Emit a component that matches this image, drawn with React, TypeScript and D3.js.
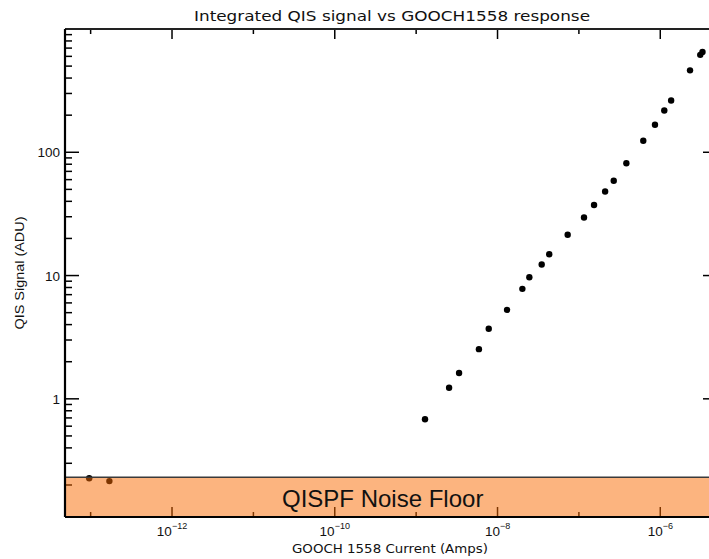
import React from "react";
import * as d3 from "d3";

// GOOCH 1558 current (A) and integrated QIS signal (ADU)
const currentAmps = [
  9.6e-14, 1.7e-13, 1.285e-9, 2.54e-9, 3.37e-9, 5.91e-9, 7.8e-9, 1.31e-8, 2.02e-8,
  2.46e-8, 3.49e-8, 4.32e-8, 7.28e-8, 1.156e-7, 1.535e-7, 2.1e-7, 2.68e-7, 3.83e-7,
  6.18e-7, 8.61e-7, 1.12e-6, 1.36e-6, 2.32e-6, 3.1e-6, 3.3e-6,
];
const signalADU = [
  0.227, 0.215, 0.683, 1.23, 1.62, 2.53, 3.7, 5.27, 7.8, 9.69, 12.3, 14.9, 21.4, 29.6,
  37.4, 48.0, 58.7, 81.4, 124, 167, 218, 263, 462, 617, 650,
];
const noiseFloor = 0.231;
const noiseLabel = "QISPF Noise Floor";
const xDecades = [-13, -12, -11, -10, -9, -8, -7, -6];
const xLabelDecades = [-12, -10, -8, -6];
const yDecades = [-1, 0, 1, 2, 3];
const yLabelValues = [1, 10, 100];
const title = "Integrated QIS signal vs GOOCH1558 response";
const xTitle = "GOOCH 1558 Current (Amps)";
const yTitle = "QIS Signal (ADU)";

const W = 709;
const H = 559;
const L = 65;
const R = 717;
const T = 29;
const B = 517;

export default function App() {
  const x = d3.scaleLog().domain([10 ** -13.315, 10 ** -5.303]).range([L, R]);
  const y = d3.scaleLog().domain([0.11, 1000]).range([B, T]);

  const yTicks: { v: number; major: boolean }[] = [];
  yDecades.forEach((d) => {
    for (let k = 1; k <= 9; k++) {
      const v = k * 10 ** d;
      if (v >= 0.11 && v <= 1000.5) yTicks.push({ v, major: k === 1 });
    }
  });

  const xMajLen = 10;
  const xMinLen = 5;
  const yMajLen = 14;
  const yMinLen = 7;
  const bandTop = y(noiseFloor);

  return (
    <svg
      width={W}
      height={H}
      style={{ position: "absolute", left: 0, top: 0, background: "#fff" }}
      fontFamily="Liberation Sans, Arial, sans-serif"
    >
      <text
        x={392}
        y={21}
        textAnchor="middle"
        fontSize={14}
        fontFamily="DejaVu Sans, sans-serif"
        textLength={396}
        lengthAdjust="spacingAndGlyphs"
        fill="#111"
      >
        {title}
      </text>

      {/* x ticks bottom & top */}
      {xDecades.map((d) => {
        const px = x(10 ** d);
        const major = d % 2 === 0;
        const len = major ? xMajLen : xMinLen;
        return (
          <g key={"xt" + d} stroke="#000" strokeWidth={1.5}>
            <line x1={px} x2={px} y1={B} y2={B - len} />
            <line x1={px} x2={px} y1={T} y2={T + len} />
          </g>
        );
      })}

      {/* y ticks left & right */}
      {yTicks.map((t, i) => {
        const py = y(t.v);
        const len = t.major ? yMajLen : yMinLen;
        return (
          <g key={"yt" + i} stroke="#000" strokeWidth={1.5}>
            <line x1={L} x2={L + len} y1={py} y2={py} />
            <line x1={R} x2={R - len} y1={py} y2={py} />
          </g>
        );
      })}

      {/* points */}
      {currentAmps.map((c, i) => (
        <circle key={"p" + i} cx={x(c)} cy={y(signalADU[i])} r={3.2} fill="#000" />
      ))}

      {/* noise floor band */}
      <rect x={L} y={bandTop} width={R - L} height={B - bandTop} fill="#F96A00" fillOpacity={0.5} />
      <line x1={L} x2={R} y1={bandTop} y2={bandTop} stroke="#3a3a3a" strokeWidth={1.5} />
      <text x={282} y={507} fontSize={24} fill="#111">
        {noiseLabel}
      </text>

      {/* axes lines */}
      <line x1={L} x2={R} y1={B} y2={B} stroke="#000" strokeWidth={2.2} />
      <line x1={L} x2={R} y1={T} y2={T} stroke="#222" strokeWidth={1.8} />
      <line x1={L} x2={L} y1={T} y2={B} stroke="#000" strokeWidth={2.2} />

      {/* x labels */}
      {xLabelDecades.map((d) => {
        const px = x(10 ** d);
        return (
          <text key={"xl" + d} x={px} y={536} textAnchor="middle" fontSize={13.5} fill="#111">
            10
            <tspan dy={-7.5} fontSize={9}>
              {"\u2212" + Math.abs(d)}
            </tspan>
          </text>
        );
      })}

      {/* y labels */}
      {yLabelValues.map((v) => (
        <text
          key={"yl" + v}
          x={60}
          y={y(v) + 5}
          textAnchor="end"
          fontSize={13.5}
          fill="#111"
        >
          {String(v)}
        </text>
      ))}

      <text
        x={390}
        y={553}
        textAnchor="middle"
        fontSize={12.5}
        fontFamily="DejaVu Sans, sans-serif"
        textLength={196}
        lengthAdjust="spacingAndGlyphs"
        fill="#111"
      >
        {xTitle}
      </text>

      <text
        transform="translate(24,273) rotate(-90)"
        textAnchor="middle"
        fontSize={13}
        textLength={113}
        lengthAdjust="spacingAndGlyphs"
        fill="#111"
      >
        {yTitle}
      </text>
    </svg>
  );
}
